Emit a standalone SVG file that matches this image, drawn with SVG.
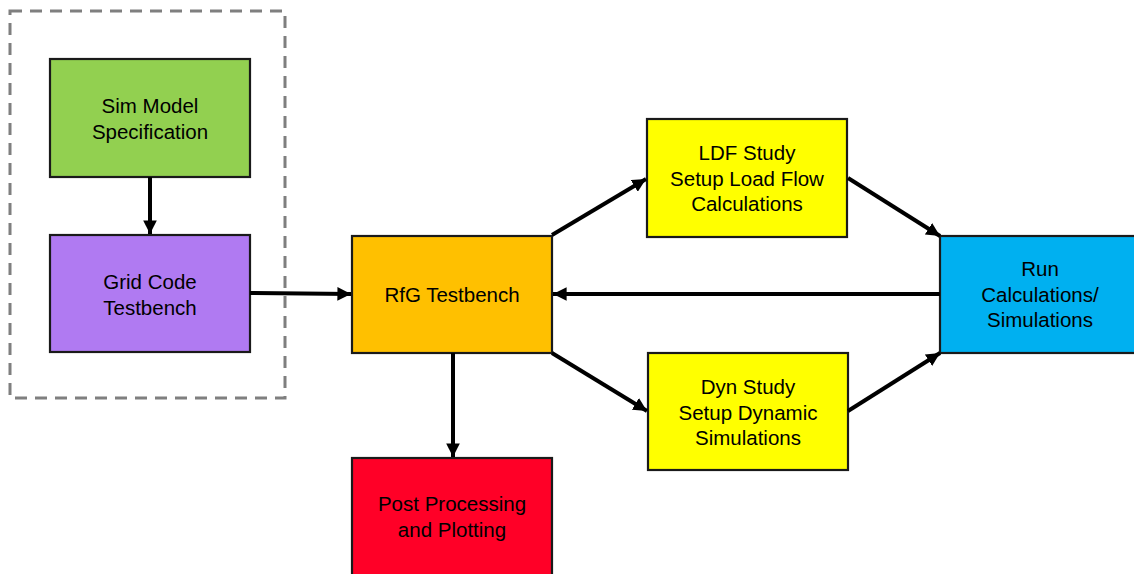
<svg xmlns="http://www.w3.org/2000/svg" width="1134" height="574" viewBox="0 0 1134 574">
  <defs>
    <marker id="arrow" viewBox="0 0 10 10" refX="10" refY="5" markerWidth="3.4" markerHeight="3.4" orient="auto" markerUnits="strokeWidth">
      <path d="M0,0 L10,5 L0,10 z" fill="#000"/>
    </marker>
    <style>
      .box { stroke: #1a1a1a; stroke-width: 2.2; }
      .lbl { font-family: "Liberation Sans", Arial, sans-serif; font-size: 20.5px; fill: #000; text-anchor: middle; }
      .conn { stroke: #000; stroke-width: 4; fill: none; marker-end: url(#arrow); }
    </style>
  </defs>
  <rect width="1134" height="574" fill="#fff"/>

  <!-- dashed grouping frame -->
  <rect id="group-frame" x="10" y="11" width="275" height="387" fill="none" stroke="#7f7f7f" stroke-width="3" stroke-dasharray="12 8"/>

  <g id="sim-model">
    <rect class="box" x="50" y="59" width="200" height="118" fill="#92d050"/>
    <text class="lbl" x="150" y="113">Sim Model</text>
    <text class="lbl" x="150" y="139">Specification</text>
  </g>

  <g id="grid-code">
    <rect class="box" x="50" y="235" width="200" height="117" fill="#b07af2"/>
    <text class="lbl" x="150" y="289">Grid Code</text>
    <text class="lbl" x="150" y="315">Testbench</text>
  </g>

  <g id="rfg-testbench">
    <rect class="box" x="352" y="236" width="200" height="117" fill="#ffc000"/>
    <text class="lbl" x="452" y="302">RfG Testbench</text>
  </g>

  <g id="ldf-study">
    <rect class="box" x="647" y="119" width="200" height="118" fill="#ffff00"/>
    <text class="lbl" x="747" y="160">LDF Study</text>
    <text class="lbl" x="747" y="186">Setup Load Flow</text>
    <text class="lbl" x="747" y="211">Calculations</text>
  </g>

  <g id="dyn-study">
    <rect class="box" x="648" y="353" width="200" height="117" fill="#ffff00"/>
    <text class="lbl" x="748" y="394">Dyn Study</text>
    <text class="lbl" x="748" y="420">Setup Dynamic</text>
    <text class="lbl" x="748" y="445">Simulations</text>
  </g>

  <g id="run-calc">
    <rect class="box" x="940" y="236" width="200" height="117" fill="#00b0f0"/>
    <text class="lbl" x="1040" y="276">Run</text>
    <text class="lbl" x="1040" y="302">Calculations/</text>
    <text class="lbl" x="1040" y="327">Simulations</text>
  </g>

  <g id="post-processing">
    <rect class="box" x="352" y="458" width="200" height="130" fill="#ff0027"/>
    <text class="lbl" x="452" y="511">Post Processing</text>
    <text class="lbl" x="452" y="537">and Plotting</text>
  </g>

  <g id="connectors">
    <line class="conn" x1="150" y1="177" x2="150" y2="234"/>
    <line class="conn" x1="250" y1="293" x2="351" y2="294"/>
    <line class="conn" x1="940" y1="294" x2="553" y2="294"/>
    <line class="conn" x1="552" y1="235" x2="646" y2="179"/>
    <line class="conn" x1="848" y1="178" x2="940" y2="236"/>
    <line class="conn" x1="552" y1="353" x2="647" y2="411"/>
    <line class="conn" x1="848" y1="411" x2="940" y2="353"/>
    <line class="conn" x1="453" y1="353" x2="453" y2="457"/>
  </g>
</svg>
